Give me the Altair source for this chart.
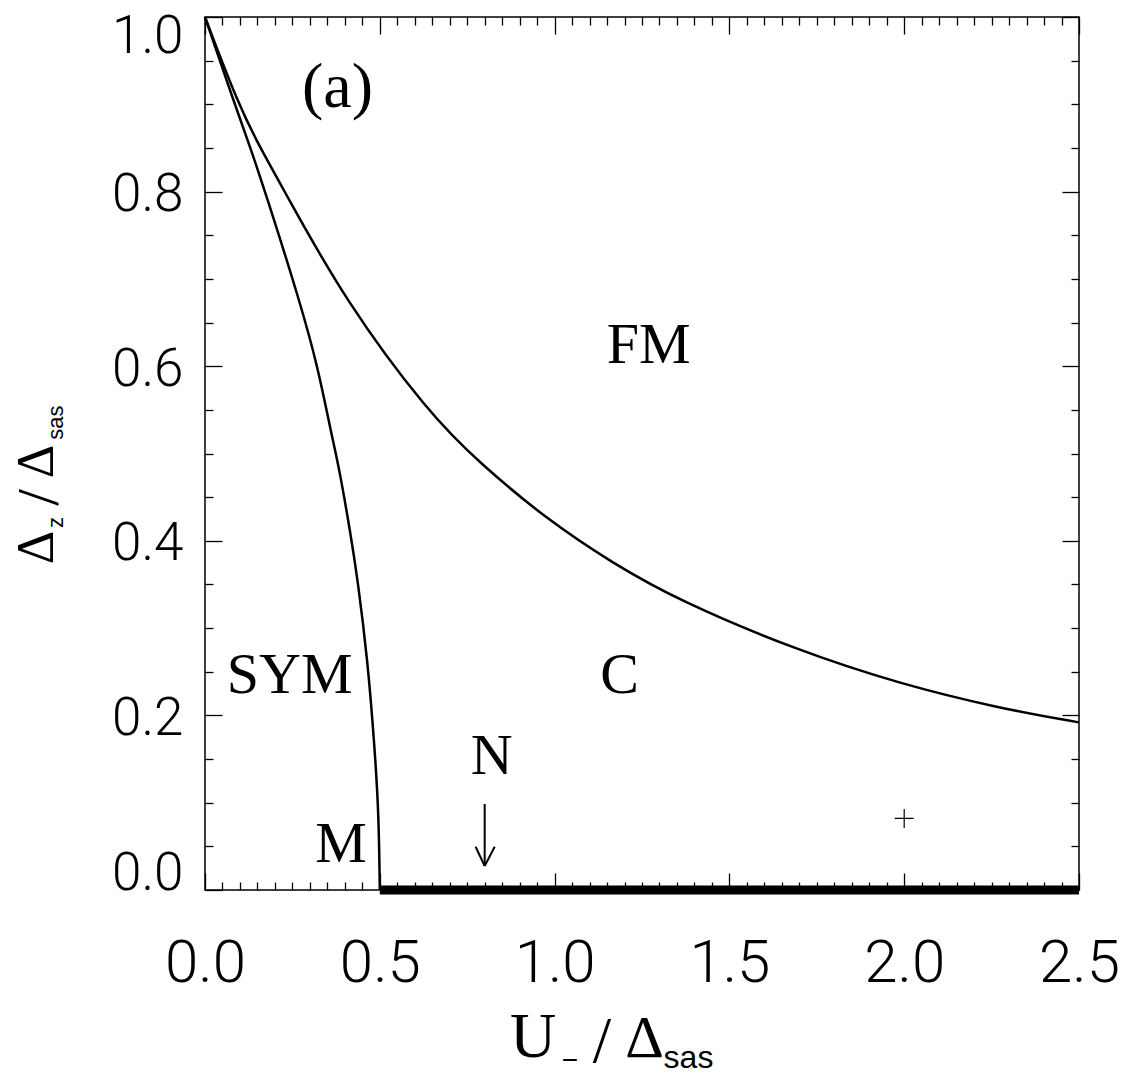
import altair as alt
import pandas as pd

# ---- data ----
upper_x = [0.0, 0.095, 0.158, 0.228, 0.399, 0.642, 0.786, 0.976, 1.167, 1.358, 1.69, 1.988, 2.274, 2.5]
upper_y = [1.0, 0.9, 0.85, 0.8, 0.676, 0.545, 0.489, 0.425, 0.374, 0.331, 0.275, 0.236, 0.208, 0.192]

inner_x = [0.0, 0.085, 0.130, 0.172, 0.270, 0.323, 0.361, 0.383, 0.416, 0.437, 0.466, 0.485, 0.497, 0.5]
inner_y = [1.0, 0.9, 0.85, 0.8, 0.676, 0.599, 0.523, 0.485, 0.409, 0.355, 0.26, 0.164, 0.088, 0.0]

heavy_x = [0.5]
heavy_x2 = [2.5]
heavy_y = [0.0]

arrow_x = [0.8, 0.774, 0.8286]
arrow_y = [0.0985, 0.0496, 0.0496]
arrow_x2 = [0.8, 0.8, 0.8]
arrow_y2 = [0.0275, 0.0275, 0.0275]

plus_x = [2.0]
plus_y = [0.082]

region_text = ["FM", "SYM", "C", "N", "M"]
region_x = [1.269, 0.242, 1.186, 0.82, 0.389]
region_y = [0.6226, 0.245, 0.245, 0.152, 0.052]

panel_text = ["(a)"]
panel_x = [0.379]
panel_y = [0.919]

x_tick_labels = [0.0, 0.5, 1.0, 1.5, 2.0, 2.5]
y_tick_labels = [0.0, 0.2, 0.4, 0.6, 0.8, 1.0]
x_minor = [round(i * 0.05, 2) for i in range(51)]
y_minor = [round(i * 0.05, 2) for i in range(21)]

W, H = 874, 873

upper_df = pd.DataFrame({"x": upper_x, "y": upper_y, "o": list(range(len(upper_x)))})
inner_df = pd.DataFrame({"x": inner_x, "y": inner_y, "o": list(range(len(inner_x)))})
heavy_df = pd.DataFrame({"x": heavy_x, "x2": heavy_x2, "y": heavy_y})
arrow_df = pd.DataFrame({"x": arrow_x, "y": arrow_y, "x2": arrow_x2, "y2": arrow_y2})
plus_df = pd.DataFrame({"x": plus_x, "y": plus_y})
region_df = pd.DataFrame({"t": region_text, "x": region_x, "y": region_y})
panel_df = pd.DataFrame({"t": panel_text, "x": panel_x, "y": panel_y})

xs = alt.Scale(domain=[0, 2.5], nice=False, zero=False)
ys = alt.Scale(domain=[0, 1], nice=False, zero=False)

LABEL_FONT = "Roboto"
SERIF = "Liberation Serif"

x_major_test = "abs(datum.value*2 - round(datum.value*2)) < 0.001"
y_major_test = "abs(datum.value*5 - round(datum.value*5)) < 0.001"

ax_bottom_labels = alt.Axis(orient="bottom", values=x_tick_labels, format=".1f", ticks=False, tickSize=0,
                            domain=False, grid=False, title=None, labelFont=LABEL_FONT, labelFontWeight=300,
                            labelFontSize=60, labelPadding=44, labelColor="black", labelFlush=False)
ay_left_labels = alt.Axis(orient="left", values=y_tick_labels, format=".1f", ticks=False, tickSize=0,
                          domain=False, grid=False, title=None, labelFont=LABEL_FONT, labelFontWeight=300,
                          labelFontSize=53, labelPadding=22, labelColor="black", labelFlush=False,
                          labelOffset={"condition": [{"test": "datum.value > 0.999", "value": 19},
                                                     {"test": "datum.value < 0.001", "value": -17}],
                                       "value": 3})

def tick_axis(orient, offset, values, test):
    return alt.Axis(orient=orient, offset=offset, values=values, labels=False, domain=False, grid=False,
                    title=None, ticks=True, tickColor="black", tickWidth=1.3,
                    tickSize={"condition": {"test": test, "value": 17}, "value": 8})

ax_bottom_in = tick_axis("top", -H, x_minor, x_major_test)
ay_left_in = tick_axis("right", -W, y_minor, y_major_test)
ax_top_in = tick_axis("bottom", -H, x_minor, x_major_test)
ay_right_in = tick_axis("left", -W, y_minor, y_major_test)

upper = alt.Chart(upper_df).mark_line(color="black", strokeWidth=2.5, interpolate="basis").encode(
    x=alt.X("x:Q", scale=xs, axis=ax_bottom_labels),
    y=alt.Y("y:Q", scale=ys, axis=ay_left_labels),
    order="o:Q",
)

inner = alt.Chart(inner_df).mark_line(color="black", strokeWidth=2.5, interpolate="basis").encode(
    x=alt.X("x:Q", scale=xs, axis=ax_bottom_in),
    y=alt.Y("y:Q", scale=ys, axis=ay_left_in),
    order="o:Q",
)

heavy = alt.Chart(heavy_df).mark_rule(color="black", strokeWidth=9, strokeCap="butt").encode(
    x=alt.X("x:Q", scale=xs, axis=ax_top_in),
    x2="x2:Q",
    y=alt.Y("y:Q", scale=ys, axis=ay_right_in),
)

arrow = alt.Chart(arrow_df).mark_rule(color="black", strokeWidth=2).encode(
    x=alt.X("x:Q", scale=xs, axis=None), x2="x2:Q",
    y=alt.Y("y:Q", scale=ys, axis=None), y2="y2:Q",
)

plus = alt.Chart(plus_df).mark_point(shape="M-1,0L1,0M0,-1L0,1", size=361, color="black",
                                     strokeWidth=1.2, filled=False, opacity=1).encode(
    x=alt.X("x:Q", scale=xs, axis=None), y=alt.Y("y:Q", scale=ys, axis=None),
)

regions = alt.Chart(region_df).mark_text(font=SERIF, fontSize=58, color="black", align="center",
                                         baseline="middle").encode(
    x=alt.X("x:Q", scale=xs, axis=None), y=alt.Y("y:Q", scale=ys, axis=None), text="t:N",
)

panel = alt.Chart(panel_df).mark_text(font=SERIF, fontSize=64, color="black", align="center",
                                      baseline="middle").encode(
    x=alt.X("x:Q", scale=xs, axis=None), y=alt.Y("y:Q", scale=ys, axis=None), text="t:N",
)

one = alt.Data(values=[{}])

def piece(text, px, py, size, font, angle=0):
    kw = dict(text=text, x=px, y=py, fontSize=size, font=font, color="black", align="center",
              baseline="middle")
    if angle:
        kw["angle"] = angle
    return alt.Chart(one).mark_text(**kw).encode(opacity=alt.value(1))

title_pieces = [
    # y title  Δz / Δsas (rotated)
    piece("Δ", -168.5, 530.5, 52, SERIF, 270),
    piece("z", -149, 505.5, 22, "Liberation Sans", 270),
    piece("/", -165.5, 480.5, 60, SERIF, 270),
    piece("Δ", -168.5, 444.5, 52, SERIF, 270),
    piece("sas", -149, 405.5, 22, "Liberation Sans", 270),
    # x title  U− / Δsas
    piece("U", 328, 1020.5, 64, SERIF),
    piece("−", 365, 1044, 28, "Liberation Sans"),
    piece("/", 397, 1024.5, 66, SERIF),
    piece("Δ", 439.5, 1022, 60, SERIF),
    piece("sas", 483.5, 1041, 32, "Liberation Sans"),
]

chart = alt.layer(upper, inner, heavy, arrow, plus, regions, panel, *title_pieces).resolve_axis(
    x="independent", y="independent"
).properties(
    width=W, height=H,
    padding={"left": 205, "top": 17, "right": 50, "bottom": 188},
    autosize=alt.AutoSizeParams(type="none"),
    background="white",
).configure_view(stroke="black", strokeWidth=1.5)

chart.save("out.html", embed_options={"renderer": "svg", "actions": False})
